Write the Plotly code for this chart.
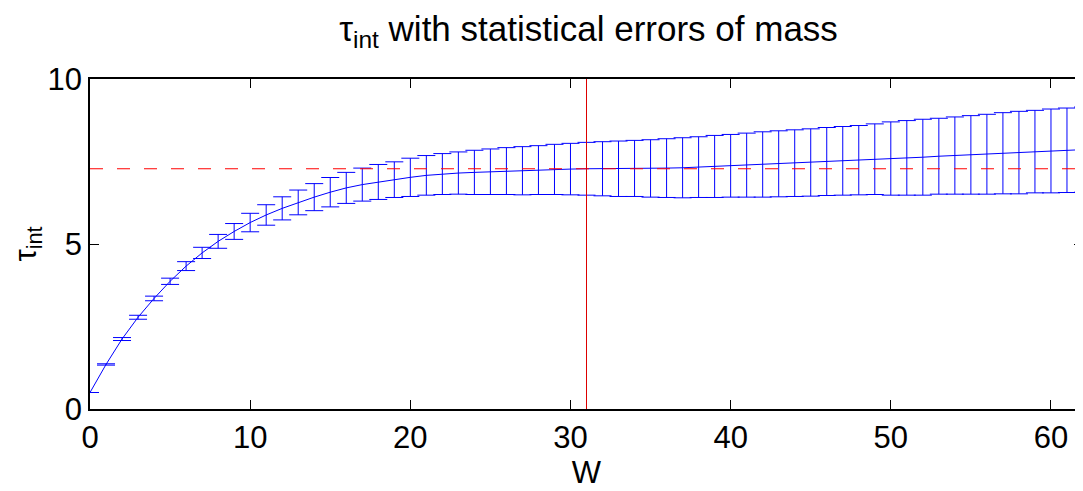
import plotly.graph_objects as go

W = list(range(63))
tau = [0.50, 1.35, 2.12, 2.78, 3.35, 3.87, 4.33, 4.73, 5.08, 5.38,
       5.65, 5.88, 6.08, 6.26, 6.42, 6.57, 6.70, 6.80, 6.88, 6.95,
       7.02, 7.08, 7.12, 7.15, 7.17, 7.19, 7.21, 7.22, 7.24, 7.26,
       7.27, 7.28, 7.28, 7.28, 7.29, 7.29, 7.30, 7.31, 7.33, 7.35,
       7.37, 7.39, 7.41, 7.43, 7.45, 7.47, 7.50, 7.52, 7.54, 7.57,
       7.59, 7.61, 7.63, 7.66, 7.68, 7.70, 7.72, 7.75, 7.77, 7.80,
       7.82, 7.84, 7.86]
err = [0.00, 0.02, 0.045, 0.06, 0.07, 0.095, 0.135, 0.17, 0.21, 0.24,
       0.28, 0.31, 0.35, 0.375, 0.41, 0.445, 0.47, 0.50, 0.53, 0.54,
       0.58, 0.60, 0.62, 0.64, 0.67, 0.69, 0.71, 0.73, 0.74, 0.76,
       0.78, 0.80, 0.82, 0.84, 0.85, 0.87, 0.89, 0.91, 0.92, 0.94,
       0.95, 0.97, 0.99, 1.00, 1.01, 1.02, 1.03, 1.04, 1.05, 1.07,
       1.11, 1.13, 1.15, 1.15, 1.17, 1.19, 1.21, 1.23, 1.25, 1.25,
       1.27, 1.28, 1.29]
tau_est = 7.28
w_opt = 31
x_ticks = [0, 10, 20, 30, 40, 50, 60]
y_ticks = [0, 5, 10]

FONT = "Liberation Sans, Arial, Helvetica, sans-serif"

fig = go.Figure()
fig.add_trace(go.Scatter(
    x=W, y=tau, mode="lines",
    line=dict(color="#0000ff", width=1),
    error_y=dict(type="data", array=err, visible=True, color="#0000ff",
                 thickness=1, width=9),
    showlegend=False, hoverinfo="skip"))

fig.add_shape(type="line", xref="paper", yref="y", x0=0, x1=1,
              y0=tau_est, y1=tau_est,
              line=dict(color="#ff0000", width=1, dash="13px,14px"))
fig.add_shape(type="line", xref="x", yref="paper", x0=w_opt, x1=w_opt,
              y0=0, y1=1, line=dict(color="#dd0000", width=1))

axis_common = dict(showgrid=False, zeroline=False, showline=True,
                   linecolor="black", linewidth=1.5, mirror="ticks",
                   ticks="inside", ticklen=9, tickwidth=1, tickcolor="black",
                   automargin=False,
                   tickfont=dict(family=FONT, size=31, color="black"))

fig.update_xaxes(range=[0, 62], tickvals=x_ticks,
                 title=dict(text="W", font=dict(family=FONT, size=31, color="black"),
                            standoff=0),
                 **axis_common)
fig.update_yaxes(range=[0, 10], tickvals=y_ticks,
                 title=dict(text="τ<sub>int</sub>",
                            font=dict(family=FONT, size=31, color="black"),
                            standoff=6),
                 **axis_common)

# page body has an 8px margin, so the figure is sized/offset to compensate
fig.update_layout(
    width=1075, height=483,
    margin=dict(l=82, r=0, t=71, b=82, autoexpand=False),
    paper_bgcolor="white", plot_bgcolor="white",
    title=dict(text="τ<sub>int</sub> with statistical errors of mass",
               font=dict(family=FONT, size=35, color="black"),
               x=0.54, xanchor="center", y=0.958, yanchor="middle",
               automargin=False),
)

fig.write_html("out.html")
